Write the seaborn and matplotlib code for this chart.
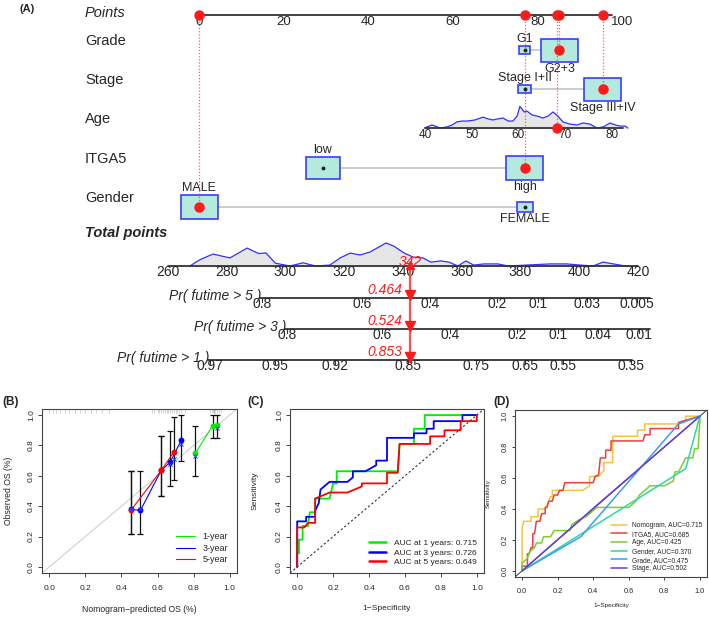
import matplotlib.pyplot as plt
import matplotlib.patches as mpatches
import numpy as np
import pandas as pd
import seaborn as sns

# ---------------- (A) nomogram data ----------------
points_ticks = [0, 20, 40, 60, 80, 100]

grade_levels = ['G1', 'G2+3']
grade_points = [77.0, 85.2]
stage_levels = ['Stage I+II', 'Stage III+IV']
stage_points = [77.0, 95.5]
itga5_levels = ['low', 'high']
itga5_points = [29.2, 77.0]
gender_levels = ['MALE', 'FEMALE']
gender_points = [0.0, 77.0]

age_ticks = [40, 50, 60, 70, 80]
age_grid = [40.0, 40.4, 41.5, 43.2, 44.7, 45.8, 46.8, 47.9, 49.0, 50.7, 52.4, 53.5,
            54.5, 55.6, 56.7, 57.8, 58.8, 59.7, 60.3, 61.2, 61.8, 62.9, 64.0, 65.2,
            66.3, 67.4, 68.4, 69.5, 71.0, 72.5, 73.8, 75.3, 76.8, 78.1, 79.6, 80.7,
            81.7, 82.8, 83.4]
age_density = [0.0, 0.05, 0.14, 0.0, 0.05, 0.14, 0.28, 0.32, 0.32, 0.37, 0.5, 0.42,
               0.37, 0.42, 0.46, 0.32, 0.32, 0.55, 1.0, 0.74, 0.78, 0.6, 0.55, 0.46,
               0.55, 0.74, 0.55, 0.28, 0.18, 0.14, 0.23, 0.18, 0.0, 0.05, 0.23, 0.14,
               0.09, 0.09, 0.0]

total_ticks = [260, 280, 300, 320, 340, 360, 380, 400, 420]
total_grid = [267.5, 269.5, 271.0, 275.3, 281.1, 286.9, 290.9, 293.3, 296.6, 301.5,
              306.0, 310.2, 315.1, 318.6, 322.0, 325.4, 328.8, 334.2, 336.8, 340.3,
              343.4, 346.8, 349.5, 352.9, 355.6, 358.7, 361.4, 364.1, 367.5, 372.3,
              375.7, 390.0, 395.8, 400.3, 404.7, 408.1, 413.9, 415.6, 417.3]
total_density = [0.0, 0.17, 0.28, 0.52, 0.35, 0.78, 0.54, 0.57, 0.12, 0.0,
                 0.14, 0.0, 0.04, 0.35, 0.56, 0.48, 0.61, 1.0, 0.87, 0.57,
                 0.39, 0.35, 0.17, 0.22, 0.17, 0.0, 0.22, 0.04, 0.09, 0.09,
                 0.0, 0.09, 0.09, 0.04, 0.0, 0.17, 0.04, 0.0, 0.0]

pr5_labels = ['0.8', '0.6', '0.4', '0.2', '0.1', '0.03', '0.005']
pr5_totals = [292.0, 326.0, 349.2, 372.0, 386.0, 402.6, 419.7]
pr3_labels = ['0.8', '0.6', '0.4', '0.2', '0.1', '0.04', '0.01']
pr3_totals = [300.5, 332.9, 356.0, 378.8, 392.8, 406.4, 420.4]
pr1_labels = ['0.97', '0.95', '0.92', '0.85', '0.75', '0.65', '0.55', '0.35']
pr1_totals = [274.3, 296.4, 316.9, 341.7, 364.9, 381.6, 394.5, 417.7]

chosen_grade = 'G2+3'
chosen_stage = 'Stage III+IV'
chosen_age = 68.3
chosen_itga5 = 'high'
chosen_gender = 'MALE'
chosen_probs = [0.464, 0.524, 0.853]

# ---------------- (B) calibration data ----------------
cal_pred_1y = [0.81, 0.905, 0.93]
cal_obs_1y = [0.75, 0.93, 0.935]
cal_lo_1y = [0.60, 0.85, 0.85]
cal_hi_1y = [0.93, 1.0, 1.0]
cal_pred_3y = [0.452, 0.505, 0.62, 0.67, 0.732]
cal_obs_3y = [0.38, 0.372, 0.635, 0.69, 0.836]
cal_lo_3y = [0.22, 0.22, 0.47, 0.535, 0.70]
cal_hi_3y = [0.63, 0.63, 0.865, 0.895, 1.0]
cal_pred_5y = [0.452, 0.62, 0.689]
cal_obs_5y = [0.372, 0.635, 0.755]
cal_lo_5y = [0.22, 0.47, 0.575]
cal_hi_5y = [0.63, 0.865, 0.99]
cal_corr_x = [0.452, 0.505, 0.67, 0.689, 0.732, 0.81, 0.93]
cal_corr_y = [0.38, 0.38, 0.68, 0.71, 0.81, 0.73, 0.915]
rug_pred = [0.0, 0.02, 0.04, 0.06, 0.09, 0.11, 0.14, 0.17, 0.2, 0.23, 0.26, 0.29, 0.33,
            0.57, 0.58, 0.6, 0.61, 0.62, 0.63, 0.64, 0.65, 0.66, 0.67, 0.68, 0.69,
            0.7, 0.71, 0.72, 0.73, 0.75, 0.89, 0.9, 0.905, 0.91, 0.915, 0.92, 0.93,
            0.94, 0.95]

# ---------------- (C) time ROC data ----------------
roc1_fpr = [0, 0, 0.01, 0.01, 0.03, 0.03, 0.06, 0.07, 0.10, 0.10, 0.18, 0.20, 0.22,
            0.22, 0.56, 0.57, 0.65, 0.65, 0.71, 0.71, 1.0]
roc1_tpr = [0, 0.09, 0.09, 0.18, 0.18, 0.27, 0.27, 0.36, 0.36, 0.45, 0.45, 0.55, 0.55,
            0.63, 0.63, 0.81, 0.81, 0.91, 0.91, 1.0, 1.0]
roc3_fpr = [0, 0, 0.05, 0.05, 0.10, 0.10, 0.12, 0.13, 0.18, 0.28, 0.31, 0.31, 0.38,
            0.44, 0.44, 0.50, 0.50, 0.65, 0.65, 0.72, 0.72, 0.76, 0.76, 0.92, 0.92, 1.0]
roc3_tpr = [0, 0.30, 0.30, 0.33, 0.33, 0.37, 0.42, 0.51, 0.56, 0.56, 0.59, 0.63, 0.63,
            0.67, 0.70, 0.70, 0.85, 0.85, 0.88, 0.88, 0.91, 0.91, 0.96, 0.96, 1.0, 1.0]
roc5_fpr = [0, 0, 0.04, 0.06, 0.10, 0.10, 0.12, 0.18, 0.28, 0.36, 0.36, 0.50, 0.50,
            0.56, 0.57, 0.74, 0.74, 0.82, 0.82, 0.91, 0.91, 1.0, 1.0]
roc5_tpr = [0, 0.26, 0.26, 0.29, 0.29, 0.45, 0.46, 0.49, 0.49, 0.53, 0.55, 0.55, 0.62,
            0.62, 0.81, 0.81, 0.86, 0.86, 0.90, 0.90, 0.96, 0.96, 1.0]
roc_labels = ['AUC at 1 years: 0.715', 'AUC at 3 years: 0.726', 'AUC at 5 years: 0.649']

# ---------------- (D) ROC by predictor ----------------
nomo_fpr = [0, 0, 0.01, 0.05, 0.05, 0.09, 0.09, 0.13, 0.15, 0.16, 0.17, 0.17, 0.34,
            0.38, 0.38, 0.43, 0.46, 0.46, 0.51, 0.51, 0.65, 0.65, 0.69, 0.69, 0.88,
            0.92, 0.92, 1.0]
nomo_tpr = [0, 0.28, 0.32, 0.32, 0.35, 0.35, 0.40, 0.40, 0.45, 0.48, 0.48, 0.52, 0.52,
            0.55, 0.61, 0.61, 0.65, 0.70, 0.70, 0.87, 0.87, 0.91, 0.91, 0.95, 0.95,
            0.97, 1.0, 1.0]
itga5_fpr = [0, 0, 0.03, 0.03, 0.04, 0.05, 0.06, 0.06, 0.07, 0.08, 0.10, 0.11, 0.13,
             0.13, 0.14, 0.15, 0.17, 0.18, 0.20, 0.21, 0.23, 0.24, 0.40, 0.41, 0.43,
             0.44, 0.47, 0.47, 0.50, 0.50, 0.68, 0.69, 0.72, 0.72, 0.88, 0.88, 0.91,
             1.0]
itga5_tpr = [0, 0.03, 0.03, 0.11, 0.11, 0.15, 0.15, 0.24, 0.24, 0.32, 0.32, 0.37, 0.37,
             0.41, 0.41, 0.45, 0.45, 0.49, 0.49, 0.52, 0.52, 0.57, 0.57, 0.61, 0.62,
             0.73, 0.73, 0.78, 0.78, 0.84, 0.84, 0.88, 0.88, 0.92, 0.92, 0.96, 0.97,
             1.0]
age_fpr = [0, 0, 0.03, 0.04, 0.05, 0.07, 0.08, 0.11, 0.12, 0.16, 0.18, 0.27, 0.28,
           0.32, 0.36, 0.42, 0.60, 0.64, 0.66, 0.72, 0.80, 0.85, 0.86, 0.88, 0.92,
           0.96, 0.97, 0.99, 1.0, 1.0]
age_tpr = [0, 0.05, 0.08, 0.12, 0.13, 0.15, 0.18, 0.18, 0.22, 0.22, 0.26, 0.26, 0.30,
           0.33, 0.35, 0.41, 0.41, 0.45, 0.49, 0.55, 0.55, 0.58, 0.64, 0.64, 0.73,
           0.73, 0.79, 0.79, 0.97, 1.0]
gender_fpr = [0, 0.92, 1.0]
gender_tpr = [0, 0.66, 1.0]
grade_fpr = [0, 0.33, 0.88, 1.0]
grade_tpr = [0, 0.22, 0.95, 1.0]
stage_fpr = [0, 0.42, 1.0]
stage_tpr = [0, 0.424, 1.0]
pred_labels = ['Nomogram, AUC=0.715', 'ITGA5, AUC=0.685', 'Age, AUC=0.425',
               'Gender, AUC=0.370', 'Grade, AUC=0.475', 'Stage, AUC=0.502']

# ---------------- style ----------------
sns.set_theme(style='ticks')
plt.rcParams['font.family'] = ['Liberation Sans', 'DejaVu Sans']
plt.rcParams['axes.edgecolor'] = '#333333'
plt.rcParams['axes.linewidth'] = 0.8

W, H = 709, 617
fig = plt.figure(figsize=(W / 100, H / 100), dpi=100)

# nomogram canvas in pixel units
axA = fig.add_axes([0, 0, 1, 1])
axA.set_xlim(0, W)
axA.set_ylim(H, 0)
axA.axis('off')


def pts_x(p):
    return 199 + p * 4.23


def age_pts(a):
    return 53.43 + (a - 40) * 1.105


def tot_x(t):
    return 168 + (t - 260) * 2.9375


BOX_FC = '#b4e9dd'
BOX_EC = '#3c3cff'
RED = '#ff1a1a'
LAB_X = 85

fig.text(19 / W, 1 - 9 / H, '(A)', fontsize=8, fontweight='bold', va='center')

# points axis
y_pts = 15
axA.text(LAB_X, y_pts - 2, 'Points', fontsize=10.5, style='italic', va='center')
axA.plot([pts_x(0), pts_x(97.6)], [y_pts, y_pts], color='#333333', lw=1.3, zorder=3)
for t in points_ticks:
    axA.text(pts_x(t), y_pts + 7, str(t), fontsize=9.5, ha='center', va='center')


def cat_row(y, label, levels, pts, sizes, chosen):
    axA.text(LAB_X, y - 9, label, fontsize=10.5, va='center')
    xs = [pts_x(p) for p in pts]
    axA.plot([min(xs), max(xs)], [y, y], color='#c4c4c4', lw=1.2, zorder=1)
    for i, (lev, x, (w, h)) in enumerate(zip(levels, xs, sizes)):
        axA.add_patch(mpatches.Rectangle((x - w / 2, y - h / 2), w, h, fc=BOX_FC,
                                         ec=BOX_EC, lw=1.2, zorder=2))
        if lev == chosen:
            axA.plot(x, y, 'o', color=RED, ms=6.5, zorder=5)
            axA.plot([x, x], [y_pts, y], color=RED, ls=(0, (1, 1.5)), lw=0.9,
                     alpha=0.7, zorder=4)
            axA.plot(x, y_pts, 'o', color=RED, ms=6.5, zorder=5)
        else:
            axA.plot(x, y, 'o', color='#222222', ms=1.8, zorder=5)
        if i == 0:
            axA.text(x, y - h / 2 - 1, lev, fontsize=9, ha='center', va='bottom')
        else:
            axA.text(x, y + h / 2 + 1, lev, fontsize=9, ha='center', va='top')


cat_row(50, 'Grade', grade_levels, grade_points, [(11, 8), (37, 23)], chosen_grade)
cat_row(89, 'Stage', stage_levels, stage_points, [(13, 8), (37, 23)], chosen_stage)
cat_row(168, 'ITGA5', itga5_levels, itga5_points, [(34, 22), (37, 24)], chosen_itga5)
cat_row(207, 'Gender', gender_levels, gender_points, [(37, 24), (16, 10)], chosen_gender)

# age row
y_age = 128
axA.text(LAB_X, y_age - 9, 'Age', fontsize=10.5, va='center')
ax_x = [pts_x(age_pts(a)) for a in age_grid]
ax_y = [y_age - d * 21.7 for d in age_density]
axA.fill_between(ax_x, ax_y, y_age, color='#e6e6e6', zorder=1)
axA.plot(ax_x, ax_y, color='#3333ff', lw=0.9, zorder=2)
axA.plot([pts_x(age_pts(40)), pts_x(age_pts(82.4))], [y_age, y_age], color='#333333',
         lw=1.3, zorder=3)
for a in age_ticks:
    axA.text(pts_x(age_pts(a)), y_age + 7, str(a), fontsize=8.5, ha='center', va='center')
xa = pts_x(age_pts(chosen_age))
axA.plot([xa, xa], [y_pts, y_age], color=RED, ls=(0, (1, 1.5)), lw=0.9, alpha=0.7, zorder=4)
axA.plot(xa, y_age, 'o', color=RED, ms=6.5, zorder=5)
axA.plot(xa, y_pts, 'o', color=RED, ms=6.5, zorder=5)

# total points
y_tot = 266
axA.text(LAB_X, 233, 'Total points', fontsize=10.5, style='italic', fontweight='bold',
         va='center')
tx = [tot_x(t) for t in total_grid]
ty = [y_tot - d * 23 for d in total_density]
axA.fill_between(tx, ty, y_tot, color='#e6e6e6', zorder=1)
axA.plot(tx, ty, color='#3333ff', lw=0.9, zorder=2)
axA.plot([tot_x(260), tot_x(420)], [y_tot, y_tot], color='#333333', lw=1.3, zorder=3)
for t in total_ticks:
    axA.text(tot_x(t), y_tot + 6.5, str(t), fontsize=10, ha='center', va='center')

# probability axes
pr_rows = [(298, 'Pr( futime > 5 )', pr5_labels, pr5_totals, 424),
           (329, 'Pr( futime > 3 )', pr3_labels, pr3_totals, 424),
           (360, 'Pr( futime > 1 )', pr1_labels, pr1_totals, 418)]
for y, name, labs, tots, t_end in pr_rows:
    x0 = tot_x(tots[0]) - 2
    axA.plot([x0, tot_x(t_end)], [y, y], color='#333333', lw=1.3, zorder=3)
    axA.text(x0 + 1, y - 2, name, fontsize=10, style='italic', ha='right', va='center')
    for lab, t in zip(labs, tots):
        axA.plot([tot_x(t), tot_x(t)], [y, y + 4], color='#333333', lw=0.8)
        axA.text(tot_x(t), y + 6, lab, fontsize=10, ha='center', va='center')

# chosen patient
total = sum([grade_points[grade_levels.index(chosen_grade)],
             stage_points[stage_levels.index(chosen_stage)],
             age_pts(chosen_age),
             itga5_points[itga5_levels.index(chosen_itga5)],
             gender_points[gender_levels.index(chosen_gender)]])
xt = tot_x(total)
axA.plot([xt, xt], [y_tot, 362], color='#ff4d4d', lw=1.6, zorder=6)
axA.plot(xt, y_tot - 1, '^', color=RED, ms=6, zorder=7)
axA.text(xt, y_tot - 4, '%d' % round(total), color=RED, fontsize=10, style='italic',
         ha='center', va='center', zorder=8)
for (y, *_), p in zip(pr_rows, chosen_probs):
    axA.plot(xt, y - 3, 'v', color=RED, ms=7.5, zorder=7)
    axA.text(xt - 8, y - 8, '%.3f' % p, color=RED, fontsize=10, style='italic',
             ha='right', va='center', zorder=8)


# ---------------- helpers for R-like panels ----------------
def r_axes(rect, tsize, tlen):
    ax = fig.add_axes(rect)
    ax.set_xlim(-0.04, 1.04)
    ax.set_ylim(-0.04, 1.04)
    ticks = [0, 0.2, 0.4, 0.6, 0.8, 1.0]
    ax.set_xticks(ticks, ['%.1f' % t for t in ticks])
    ax.set_yticks(ticks, ['%.1f' % t for t in ticks], rotation=90, va='center')
    ax.tick_params(axis='x', labelsize=tsize, length=tlen, width=0.6, pad=5.5)
    ax.tick_params(axis='y', labelsize=tsize, length=tlen, width=0.6, pad=2)
    for s in ax.spines.values():
        s.set_color('#444444')
        s.set_linewidth(0.8)
    return ax


def px_rect(l, t, r, b):
    return [l / W, 1 - b / H, (r - l) / W, (b - t) / H]


# (B)
axB = r_axes(px_rect(42, 409, 237, 573), 6, 3)
axB.axline((0, 0), (1, 1), color='#d0d0d0', lw=0.8)
axB.vlines(rug_pred, 1.012, 1.04, color='#9a9a9a', lw=0.5, alpha=0.6)
for pred, obs, lo, hi, c, lab in [
        (cal_pred_1y, cal_obs_1y, cal_lo_1y, cal_hi_1y, '#00ee00', '1-year'),
        (cal_pred_3y, cal_obs_3y, cal_lo_3y, cal_hi_3y, '#0000ff', '3-year'),
        (cal_pred_5y, cal_obs_5y, cal_lo_5y, cal_hi_5y, '#ff0000', '5-year')]:
    axB.errorbar(pred, obs, yerr=[np.subtract(obs, lo), np.subtract(hi, obs)], fmt='none',
                 ecolor='#111111', elinewidth=0.9, capsize=2.5, capthick=0.9)
    sns.lineplot(x=pred, y=obs, sort=False, estimator=None, color=c, lw=0.8, label=lab,
                 ax=axB)
    axB.plot(pred, obs, 'o', color=c, ms=3.2, zorder=5)
axB.scatter(cal_corr_x, cal_corr_y, marker='x', color='#3333ff', s=9, lw=0.7, zorder=6)
axB.legend(loc='lower right', frameon=False, fontsize=6.5, handlelength=2.1,
           handletextpad=0.8, labelspacing=0.25, borderaxespad=0.6)
axB.set_xlabel('Nomogram\u2212predicted OS (%)', fontsize=6.2)
axB.set_ylabel('Observed OS (%)', fontsize=6.2)
axB.xaxis.set_label_coords(0.5, -0.195)
axB.yaxis.set_label_coords(-0.15, 0.5)
fig.text(2 / W, 1 - 402 / H, '(B)', fontsize=8.5, fontweight='bold', va='center')

# (C)
axC = r_axes(px_rect(290, 409, 484, 573), 6, 3)
axC.axline((0, 0), (1, 1), color='#333333', lw=0.8, ls=(0, (2, 2)))
for fpr, tpr, c, lab in zip([roc1_fpr, roc3_fpr, roc5_fpr], [roc1_tpr, roc3_tpr, roc5_tpr],
                            ['#00ee00', '#0000ff', '#ff0000'], roc_labels):
    sns.lineplot(x=fpr, y=tpr, sort=False, estimator=None, color=c, lw=1.3, label=lab,
                 ax=axC)
axC.legend(loc='lower right', frameon=False, fontsize=6, handlelength=2.0,
           handletextpad=1.0, labelspacing=0.2, borderaxespad=0.4)
for h in axC.get_legend().legend_handles:
    h.set_linewidth(1.8)
axC.set_xlabel('1\u2212Specificity', fontsize=6.1)
axC.set_ylabel('Sensitivity', fontsize=6.1)
axC.xaxis.set_label_coords(0.5, -0.195)
axC.yaxis.set_label_coords(-0.16, 0.5)
fig.text(247 / W, 1 - 402 / H, '(C)', fontsize=8.5, fontweight='bold', va='center')

# (D)
axD = r_axes(px_rect(515, 410, 707, 577), 5.3, 2.5)
axD.axline((0, 0), (1, 1), color='#333333', lw=0.7)
d_cols = ['#f2c440', '#f03c3c', '#78d030', '#30d6a0', '#3c9cec', '#6a3cd8']
for fpr, tpr, c, lab in zip([nomo_fpr, itga5_fpr, age_fpr, gender_fpr, grade_fpr, stage_fpr],
                            [nomo_tpr, itga5_tpr, age_tpr, gender_tpr, grade_tpr, stage_tpr],
                            d_cols, pred_labels):
    sns.lineplot(x=fpr, y=tpr, sort=False, estimator=None, color=c, lw=1.1, label=lab,
                 ax=axD)
axD.legend(loc='lower right', frameon=False, fontsize=4.8, handlelength=2.4,
           handletextpad=0.8, labelspacing=0.25, borderaxespad=0.3)
axD.set_xlabel('1\u2212Specificity', fontsize=4.6)
axD.set_ylabel('Sensitivity', fontsize=4.6)
axD.xaxis.set_label_coords(0.5, -0.156)
axD.yaxis.set_label_coords(-0.125, 0.5)
fig.text(493 / W, 1 - 402 / H, '(D)', fontsize=8.5, fontweight='bold', va='center')

fig.savefig('out.png', dpi=100)
